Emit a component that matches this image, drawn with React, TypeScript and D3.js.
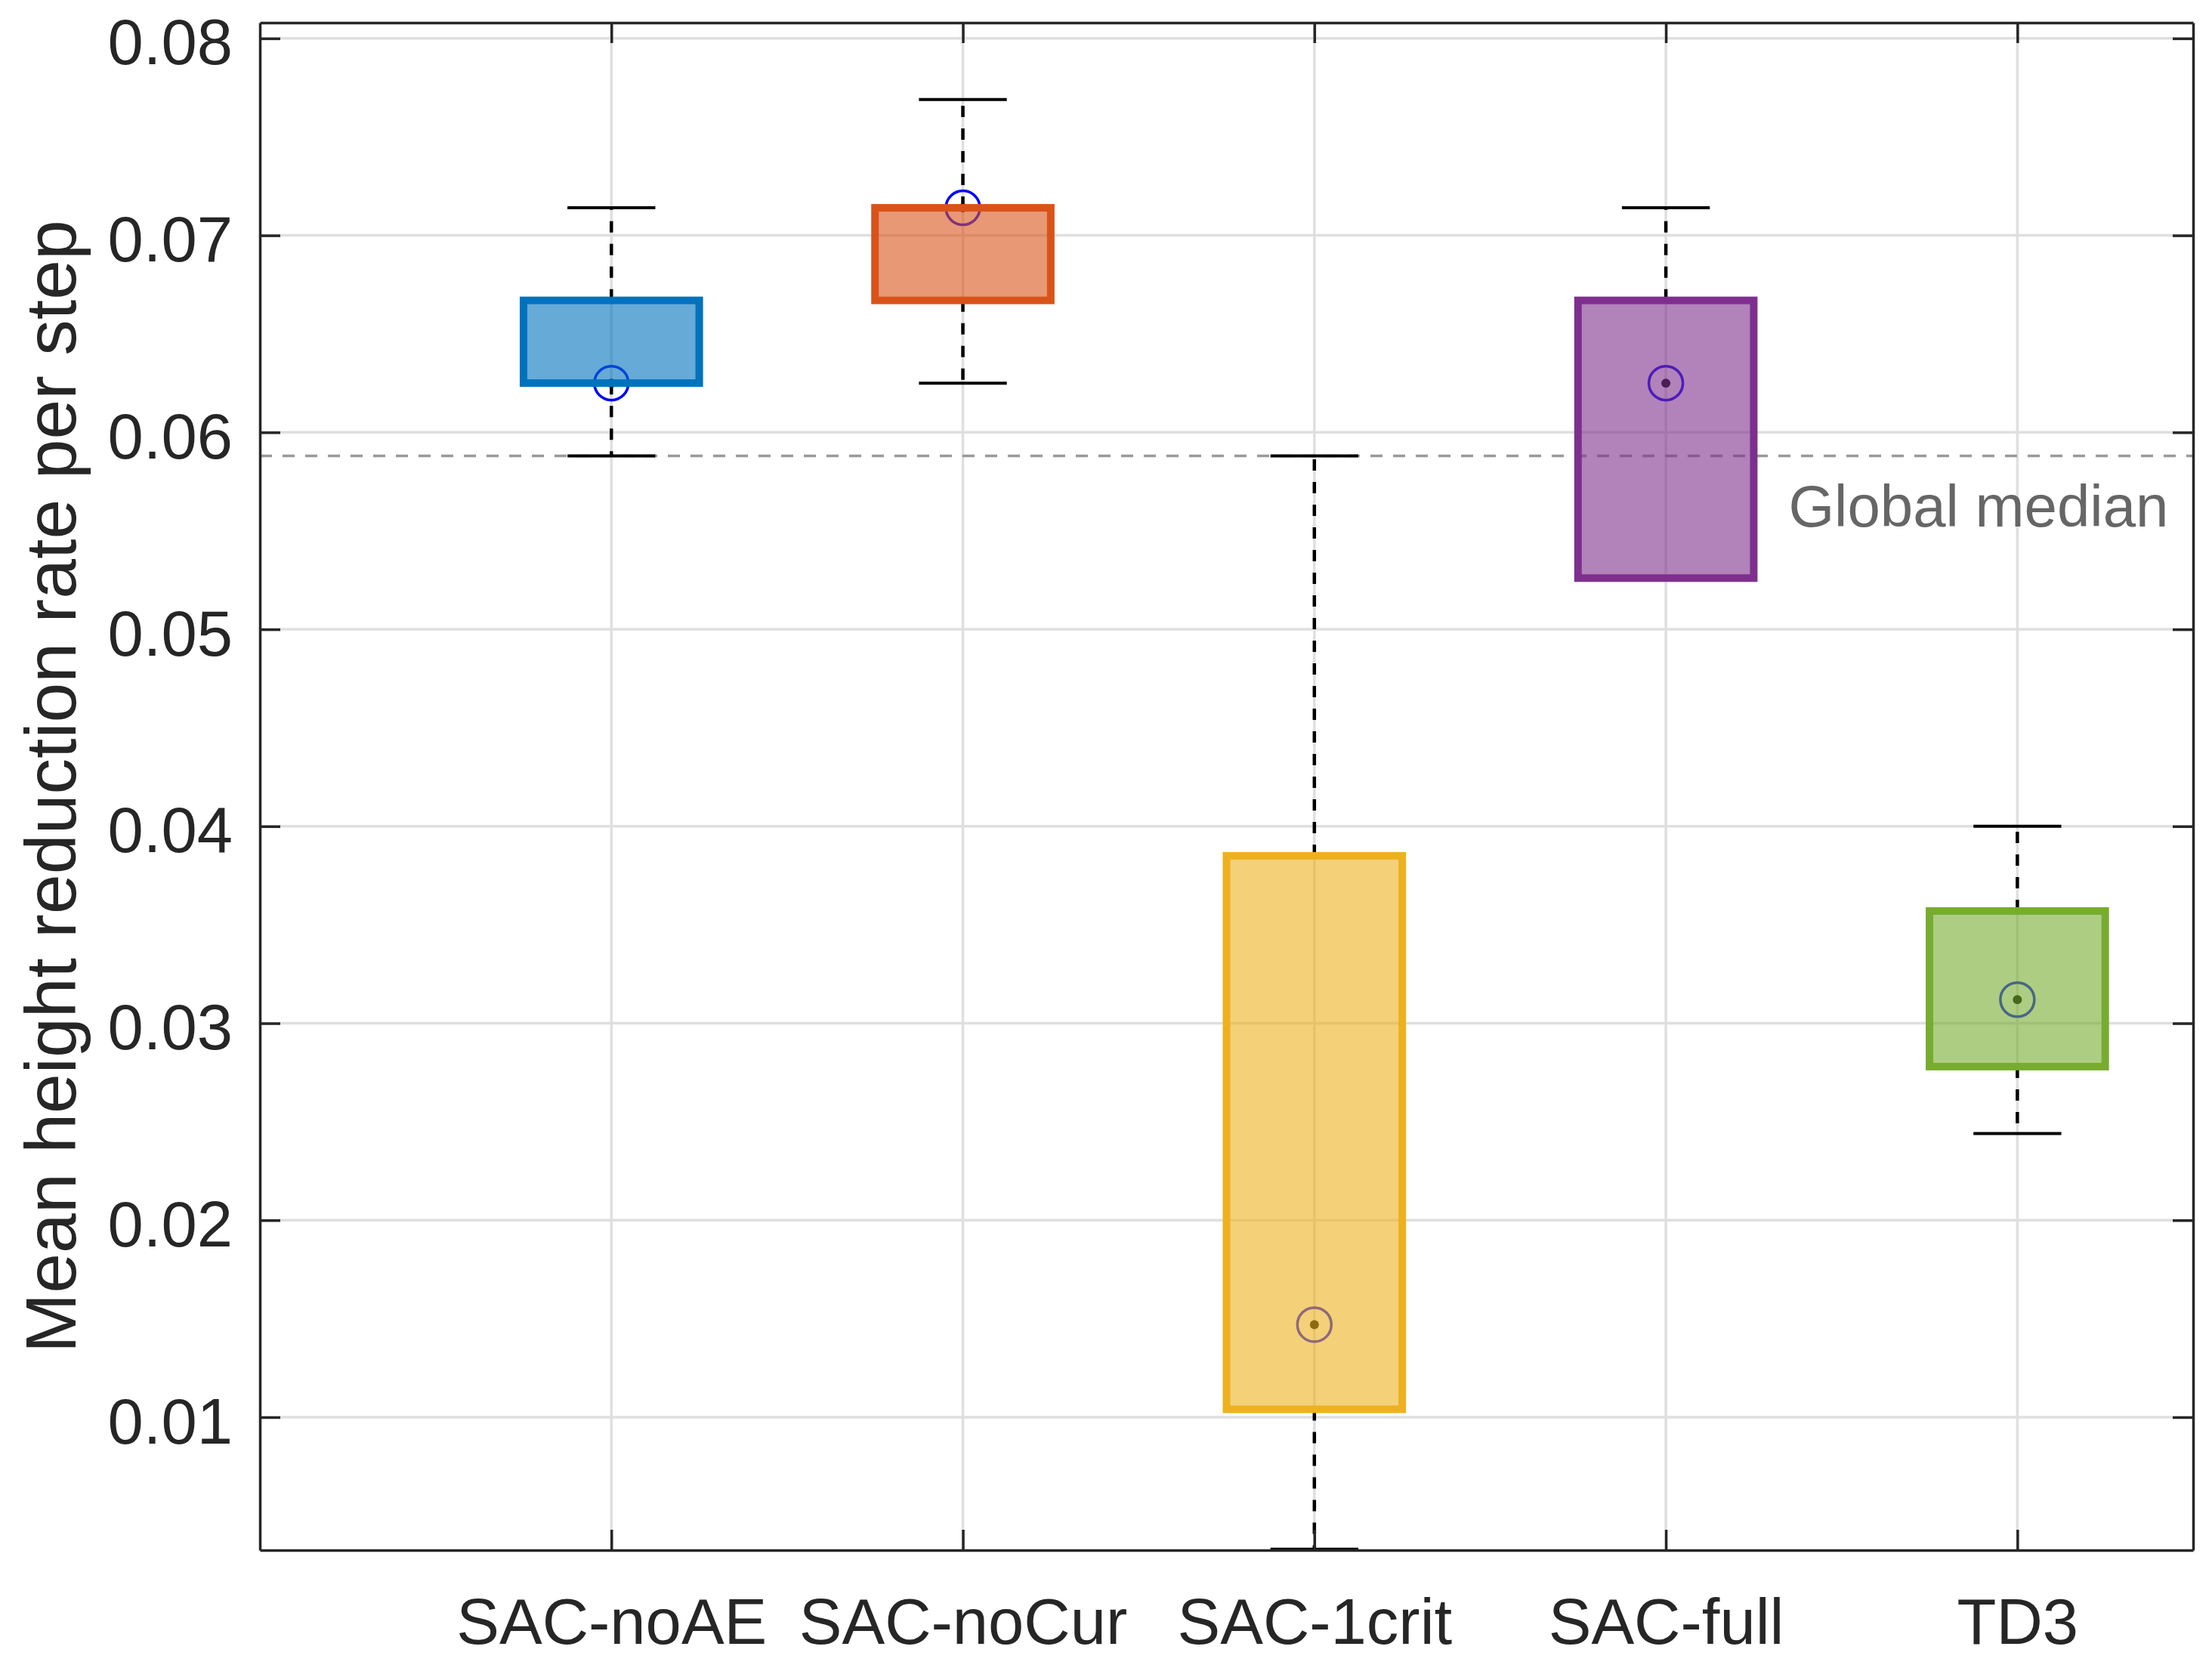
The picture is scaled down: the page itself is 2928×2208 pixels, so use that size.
import { useEffect, useRef } from "react";
import { scaleLinear, select, axisLeft, axisBottom, axisRight, axisTop } from "d3";

const WIDTH = 2928;
const HEIGHT = 2208;
const PLOT = { left: 344, right: 2903, top: 30, bottom: 2052 };

const CATEGORIES = ["SAC-noAE", "SAC-noCur", "SAC-1crit", "SAC-full", "TD3"];
const Q1 = [0.0625, 0.0667, 0.0104, 0.0526, 0.0278];
const Q3 = [0.0667, 0.0714, 0.0385, 0.0667, 0.0357];
const MEDIANS = [0.0625, 0.0714, 0.0147, 0.0625, 0.0312];
const WHISKER_LOW = [0.0588, 0.0625, 0.0033, 0.0526, 0.0244];
const WHISKER_HIGH = [0.0714, 0.0769, 0.0588, 0.0714, 0.04];
const GLOBAL_MEDIAN = 0.0588;
const Y_TICKS = [0.01, 0.02, 0.03, 0.04, 0.05, 0.06, 0.07, 0.08];
const X_TICKS = [1, 2, 3, 4, 5];

const BOX_COLORS = ["#0072BD", "#D95319", "#EDB120", "#7E2F8E", "#77AC30"];

const AXIS_COLOR = "#262626";
const GRID_COLOR = "#dfdfdf";
const FONT = "'Liberation Sans', Arial, Helvetica, sans-serif";
const TICK_LEN = 27;

export default function App() {
  const svgRef = useRef<SVGSVGElement>(null);

  useEffect(() => {
    const svg = select(svgRef.current);
    svg.selectAll("*").remove();
    svg.attr("width", WIDTH).attr("height", HEIGHT);

    svg.append("rect").attr("width", WIDTH).attr("height", HEIGHT).attr("fill", "#ffffff");

    const x = scaleLinear().domain([0, 5.5]).range([PLOT.left, PLOT.right]);
    const y = scaleLinear().domain([0.00325, 0.0808]).range([PLOT.bottom, PLOT.top]);

    const g = svg.append("g");

    // grid
    Y_TICKS.forEach((v) => {
      g.append("line")
        .attr("x1", PLOT.left)
        .attr("x2", PLOT.right)
        .attr("y1", y(v))
        .attr("y2", y(v))
        .attr("stroke", GRID_COLOR)
        .attr("stroke-width", 3.5);
    });
    X_TICKS.forEach((v) => {
      g.append("line")
        .attr("x1", x(v))
        .attr("x2", x(v))
        .attr("y1", PLOT.top)
        .attr("y2", PLOT.bottom)
        .attr("stroke", GRID_COLOR)
        .attr("stroke-width", 3.5);
    });

    // global median line
    g.append("line")
      .attr("x1", PLOT.left)
      .attr("x2", PLOT.right)
      .attr("y1", y(GLOBAL_MEDIAN))
      .attr("y2", y(GLOBAL_MEDIAN))
      .attr("stroke", "#999999")
      .attr("stroke-width", 3.5)
      .attr("stroke-dasharray", "16,14");

    const boxHalf = (x(0.5) - x(0)) / 2;
    const capHalf = (x(0.25) - x(0)) / 2;

    CATEGORIES.forEach((_, i) => {
      const cx = x(X_TICKS[i]);
      const color = BOX_COLORS[i];

      // whiskers
      [
        [WHISKER_HIGH[i], Q3[i]],
        [WHISKER_LOW[i], Q1[i]],
      ].forEach(([end, start]) => {
        g.append("line")
          .attr("x1", cx)
          .attr("x2", cx)
          .attr("y1", y(start))
          .attr("y2", y(end))
          .attr("stroke", "#000000")
          .attr("stroke-width", 4.5)
          .attr("stroke-dasharray", "15,15");
        g.append("line")
          .attr("x1", cx - capHalf)
          .attr("x2", cx + capHalf)
          .attr("y1", y(end))
          .attr("y2", y(end))
          .attr("stroke", "#000000")
          .attr("stroke-width", 4);
      });

      // median marker (under the translucent box)
      g.append("circle")
        .attr("cx", cx)
        .attr("cy", y(MEDIANS[i]))
        .attr("r", 22.5)
        .attr("fill", "none")
        .attr("stroke", "#0000ff")
        .attr("stroke-width", 3.5);
      g.append("circle")
        .attr("cx", cx)
        .attr("cy", y(MEDIANS[i]))
        .attr("r", 6)
        .attr("fill", "#000000");

      // box
      g.append("rect")
        .attr("x", cx - boxHalf)
        .attr("y", y(Q3[i]))
        .attr("width", boxHalf * 2)
        .attr("height", y(Q1[i]) - y(Q3[i]))
        .attr("fill", color)
        .attr("fill-opacity", 0.6)
        .attr("stroke", color)
        .attr("stroke-width", 10);
    });

    // global median label
    g.append("text")
      .attr("x", x(5.43))
      .attr("y", y(GLOBAL_MEDIAN) + 93)
      .attr("text-anchor", "end")
      .attr("fill", "#666666")
      .attr("font-family", FONT)
      .attr("font-size", "78px")
      .text("Global median");

    // axes
    const styleAxis = (sel: any) => {
      sel.select(".domain").attr("stroke", AXIS_COLOR).attr("stroke-width", 3.5);
      sel.selectAll(".tick line").attr("stroke", AXIS_COLOR).attr("stroke-width", 3.5);
      sel.selectAll("text")
        .attr("fill", AXIS_COLOR)
        .attr("font-family", FONT)
        .attr("font-size", "85px");
    };

    svg.append("g")
      .attr("transform", `translate(${PLOT.left},0)`)
      .call(axisLeft(y).tickValues(Y_TICKS).tickSizeInner(-TICK_LEN).tickSizeOuter(0).tickPadding(36).tickFormat((d: any) => `${+d.toFixed(2)}`))
      .call(styleAxis)
      .selectAll("text")
      .attr("dy", "0.4em");

    svg.append("g")
      .attr("transform", `translate(${PLOT.right},0)`)
      .call(axisRight(y).tickValues(Y_TICKS).tickSizeInner(-TICK_LEN).tickSizeOuter(0).tickFormat(() => ""))
      .call(styleAxis);

    svg.append("g")
      .attr("transform", `translate(0,${PLOT.bottom})`)
      .call(axisBottom(x).tickValues(X_TICKS).tickSizeInner(-TICK_LEN).tickSizeOuter(0).tickPadding(64).tickFormat((d: any) => CATEGORIES[d - 1]))
      .call(styleAxis);

    svg.append("g")
      .attr("transform", `translate(0,${PLOT.top})`)
      .call(axisTop(x).tickValues(X_TICKS).tickSizeInner(-TICK_LEN).tickSizeOuter(0).tickFormat(() => ""))
      .call(styleAxis);

    // y axis title
    svg.append("text")
      .attr("transform", `translate(100,${(PLOT.top + PLOT.bottom) / 2}) rotate(-90)`)
      .attr("text-anchor", "middle")
      .attr("fill", AXIS_COLOR)
      .attr("font-family", FONT)
      .attr("font-size", "95px")
      .text("Mean height reduction rate per step");
  }, []);

  return (
    <svg
      ref={svgRef}
      style={{ position: "absolute", left: 0, top: 0, display: "block" }}
    />
  );
}
